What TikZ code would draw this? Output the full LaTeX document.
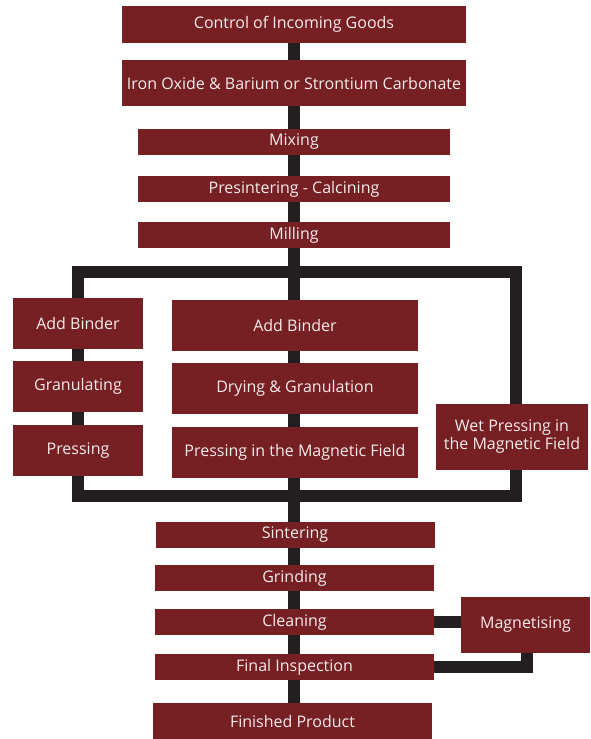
\documentclass[tikz,border=0pt]{standalone}
\usepackage{fontspec}
\setmainfont{Open Sans}
\usepackage{xcolor}
\usetikzlibrary{backgrounds}

\definecolor{ferritered}{HTML}{772024}
\definecolor{flowline}{HTML}{231F20}
\definecolor{boxtext}{HTML}{F3EAEA}

\begin{document}
\begin{tikzpicture}[
    x=1pt, y=-1pt,
    box/.style={
        rectangle, fill=ferritered, text=boxtext,
        inner sep=0pt, align=center,
        font=\fontsize{16}{18}\selectfont
    },
    head/.style={box, minimum width=344pt},
    stage/.style={box, minimum width=312pt, minimum height=26pt},
    side/.style={box, minimum width=130pt, minimum height=51pt},
    core/.style={box, minimum width=246pt, minimum height=51pt},
    tail/.style={box, minimum width=279pt, minimum height=26pt},
    flow/.style={draw=flowline, line width=12pt}
]
    \useasboundingbox (0,0) rectangle (590,739);

    % Raw material preparation
    \node [head, minimum height=37pt] (goods) at (294,24) {Control of Incoming Goods};
    \node [head, minimum height=46pt] (raw) at (294,83) {Iron Oxide \& Barium or Strontium Carbonate};
    \node [stage] (mixing) at (294,142) {Mixing};
    \node [stage] (calcine) at (294,189) {Presintering - Calcining};
    \node [stage] (milling) at (294,235) {Milling};

    % Three forming routes
    \node [side] (lbinder) at (78,323.5) {Add Binder};
    \node [side] (lgranul) at (78,386.5) {Granulating};
    \node [side] (lpress) at (78,450.5) {Pressing};
    \node [core] (mbinder) at (295,325.5) {Add Binder};
    \node [core] (mdrying) at (295,388.5) {Drying \& Granulation};
    \node [core] (mpress) at (295,452.5) {Pressing in the Magnetic Field};
    \node [box, minimum width=152pt, minimum height=66pt] (wet) at (512,437) {Wet Pressing in\\the Magnetic Field};
    \coordinate (split) at (78,272);
    \coordinate (merge) at (516,496);

    % Finishing
    \node [tail] (sinter) at (295,535) {Sintering};
    \node [tail] (grind) at (294.5,578) {Grinding};
    \node [tail] (clean) at (294.5,622) {Cleaning};
    \node [tail] (inspect) at (294.5,667) {Final Inspection};
    \node [box, minimum width=129pt, minimum height=56pt] (magnet) at (525.5,625) {Magnetising};
    \node [tail, minimum height=36pt] (finished) at (292.5,721) {Finished Product};

    % Lines
    \begin{scope}[on background layer]
        \foreach \a/\b in {goods/raw, raw/mixing, mixing/calcine, calcine/milling,
            milling/mbinder, mbinder/mdrying, mdrying/mpress, mpress/sinter,
            sinter/grind, grind/clean, clean/inspect, inspect/finished}
            \draw [flow] (\a.south -| 294,0) -- (\b.north -| 294,0);
        \draw [flow] (split) rectangle (merge);
        \draw [flow] (clean.east) -- (clean.east -| magnet.west);
        \draw [flow] (magnet.south -| 527,0) |- (inspect.east);
    \end{scope}

\end{tikzpicture}
\end{document}
